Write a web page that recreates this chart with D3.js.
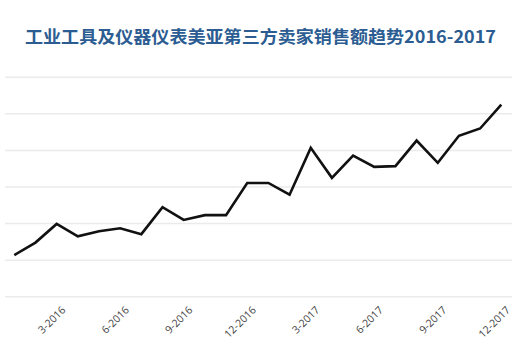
<!DOCTYPE html>
<html><head><meta charset="utf-8">
<script src="https://d3js.org/d3.v7.min.js"></script>
<style>body{margin:0;background:#fff}svg{display:block}</style>
</head><body>
<script>
const months = ["1-2016","2-2016","3-2016","4-2016","5-2016","6-2016","7-2016","8-2016","9-2016","10-2016","11-2016","12-2016",
"1-2017","2-2017","3-2017","4-2017","5-2017","6-2017","7-2017","8-2017","9-2017","10-2017","11-2017","12-2017"];
const sales = [1.14,1.48,1.99,1.65,1.79,1.87,1.71,2.45,2.10,2.23,2.23,3.11,3.11,2.79,4.07,3.25,3.86,3.55,3.57,4.27,3.66,4.40,4.60,5.25];
const tickLabels = ["3-2016","6-2016","9-2016","12-2016","3-2017","6-2017","9-2017","12-2017"];
const gridValues = [0,1,2,3,4,5,6];
const title = "工业工具及仪器仪表美亚第三方卖家销售额趋势2016-2017";

const W=532,H=359;
const svg=d3.select("body").append("svg").attr("width",W).attr("height",H);
svg.append("rect").attr("width",W).attr("height",H).attr("fill","#fff");

svg.append("text").attr("x",25).attr("y",43)
  .attr("font-family","'Noto Sans CJK SC', sans-serif").attr("font-weight","bold")
  .attr("font-size",17).attr("fill","#2c5d92")
  .attr("textLength",471).attr("lengthAdjust","spacingAndGlyphs")
  .text(title);

const x=d3.scalePoint().domain(months).range([14.3,501.3]);
const y=d3.scaleLinear().domain([0,6]).range([296.7,77.3]);

svg.append("g").selectAll("line").data(gridValues).join("line")
  .attr("x1",5).attr("x2",512).attr("y1",d=>y(d)).attr("y2",d=>y(d))
  .attr("stroke","#ebebeb").attr("stroke-width",1.5);

const xAxis=d3.axisBottom(x).tickValues(tickLabels).tickSize(0).tickPadding(0);
const gx=svg.append("g").attr("transform",`translate(0,${y(0)})`).call(xAxis);
gx.select(".domain").remove();
gx.selectAll("text")
  .attr("font-family","'Open Sans', sans-serif").attr("font-size",10.5).attr("fill","#444")
  .attr("text-anchor","end").attr("y",0).attr("dy",0)
  .attr("transform","translate(9,14) rotate(-45)");

const line=d3.line().x((d,i)=>x(months[i])).y(d=>y(d));
svg.append("path").datum(sales).attr("d",line)
  .attr("fill","none").attr("stroke","#111").attr("stroke-width",2.6)
  .attr("stroke-linejoin","miter");
</script>
</body></html>
